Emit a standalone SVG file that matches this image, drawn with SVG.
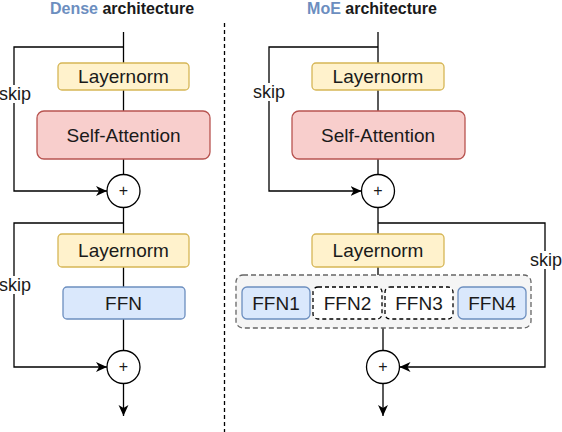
<svg xmlns="http://www.w3.org/2000/svg" width="562" height="432" viewBox="0 0 562 432">
<defs>
<marker id="arr" viewBox="0 0 10 10" refX="10" refY="5" markerWidth="11" markerHeight="11" markerUnits="userSpaceOnUse" orient="auto">
<path d="M0,0.5 L10,5 L0,9.5 L2.8,5 Z" fill="#000"/>
</marker>
<style>
text{font-family:"Liberation Sans",Arial,sans-serif;fill:#1a1a1a}
.lbl{font-size:19px;text-anchor:middle;dominant-baseline:central}
.skip{font-size:18px;text-anchor:middle;dominant-baseline:central}
.title{font-size:16px;font-weight:bold;text-anchor:middle}
.ln{fill:#fff2cc;stroke:#d6b656;stroke-width:1.3}
.sa{fill:#f8cecc;stroke:#b85450;stroke-width:1.3}
.ffn{fill:#dae8fc;stroke:#6c8ebf;stroke-width:1.3}
.off{fill:#ffffff;stroke:#000;stroke-width:1.3;stroke-dasharray:4 3}
.grp{fill:#f5f5f5;stroke:#666666;stroke-width:1.3;stroke-dasharray:5 3}
.c{fill:#fff;stroke:#000;stroke-width:1.3}
.e{fill:none;stroke:#000;stroke-width:1.3}
.plus{font-size:16px;text-anchor:middle;dominant-baseline:central}
</style>
</defs>
<rect width="562" height="432" fill="#fff"/>
<g id="titles">
<text class="title" x="122" y="14"><tspan fill="#6c8ebf">Dense</tspan> architecture</text>
<text class="title" x="372" y="14"><tspan fill="#6c8ebf">MoE</tspan> architecture</text>
</g>
<line x1="224.5" y1="23" x2="224.5" y2="432" stroke="#000" stroke-width="1.3" stroke-dasharray="4 3"/>
<g id="connectors">
<path class="e" d="M123.5,32 V174"/>
<path class="e" d="M123.5,47 H14 V191 H107" marker-end="url(#arr)"/>
<path class="e" d="M123.5,207 V350.5"/>
<path class="e" d="M123.5,223 H14 V367 H107" marker-end="url(#arr)"/>
<path class="e" d="M123.5,383.5 V416" marker-end="url(#arr)"/>
<path class="e" d="M378,32 V174.5"/>
<path class="e" d="M378,47 H269 V191 H361.5" marker-end="url(#arr)"/>
<path class="e" d="M378,207.5 V275"/>
<path class="e" d="M378,223 H545 V367 H399.5" marker-end="url(#arr)"/>
<path class="e" d="M383,328 V350.5"/>
<path class="e" d="M383,383.5 V416" marker-end="url(#arr)"/>
</g>
<g id="skip-labels">
<rect x="0" y="85" width="31" height="18" fill="#fff"/>
<text class="skip" x="15" y="94">skip</text>
<rect x="0" y="276" width="31" height="18" fill="#fff"/>
<text class="skip" x="15" y="285">skip</text>
<rect x="253" y="83" width="32" height="18" fill="#fff"/>
<text class="skip" x="269" y="92">skip</text>
<rect x="530" y="251" width="32" height="18" fill="#fff"/>
<text class="skip" x="546" y="260">skip</text>
</g>
<g id="dense-layernorm1"><rect class="ln" x="58" y="63" width="131" height="27" rx="4"/><text class="lbl" x="123.5" y="76.5">Layernorm</text></g>
<g id="dense-attention"><rect class="sa" x="37" y="111" width="173" height="48" rx="7"/><text class="lbl" x="123.5" y="135">Self-Attention</text></g>
<g id="dense-add1"><circle class="c" cx="123.5" cy="191" r="16.5"/><text class="plus" x="123.5" y="190">+</text></g>
<g id="dense-layernorm2"><rect class="ln" x="58" y="234" width="131" height="33" rx="4"/><text class="lbl" x="123.5" y="250.5">Layernorm</text></g>
<g id="dense-ffn"><rect class="ffn" x="63" y="287" width="122" height="32" rx="4"/><text class="lbl" x="123.5" y="303">FFN</text></g>
<g id="dense-add2"><circle class="c" cx="123.5" cy="367" r="16.5"/><text class="plus" x="123.5" y="366">+</text></g>
<g id="moe-layernorm1"><rect class="ln" x="312" y="63" width="132" height="27" rx="4"/><text class="lbl" x="378" y="76.5">Layernorm</text></g>
<g id="moe-attention"><rect class="sa" x="292" y="111" width="173" height="48" rx="7"/><text class="lbl" x="378" y="135">Self-Attention</text></g>
<g id="moe-add1"><circle class="c" cx="378" cy="191" r="16.5"/><text class="plus" x="378" y="190">+</text></g>
<g id="moe-layernorm2"><rect class="ln" x="312" y="234" width="132" height="33" rx="4"/><text class="lbl" x="378" y="250.5">Layernorm</text></g>
<g id="moe-experts">
<rect class="grp" x="236" y="275" width="295" height="53" rx="7"/>
<g id="ffn1"><rect class="ffn" x="242" y="287" width="68" height="32" rx="5"/><text class="lbl" x="276" y="303">FFN1</text></g>
<g id="ffn2"><rect class="off" x="313" y="287" width="69" height="32" rx="5"/><text class="lbl" x="347.5" y="303">FFN2</text></g>
<g id="ffn3"><rect class="off" x="385" y="287" width="68" height="32" rx="5"/><text class="lbl" x="419" y="303">FFN3</text></g>
<g id="ffn4"><rect class="ffn" x="458" y="287" width="68" height="32" rx="5"/><text class="lbl" x="492" y="303">FFN4</text></g>
</g>
<g id="moe-add2"><circle class="c" cx="383" cy="367" r="16.5"/><text class="plus" x="383" y="366">+</text></g>
</svg>
